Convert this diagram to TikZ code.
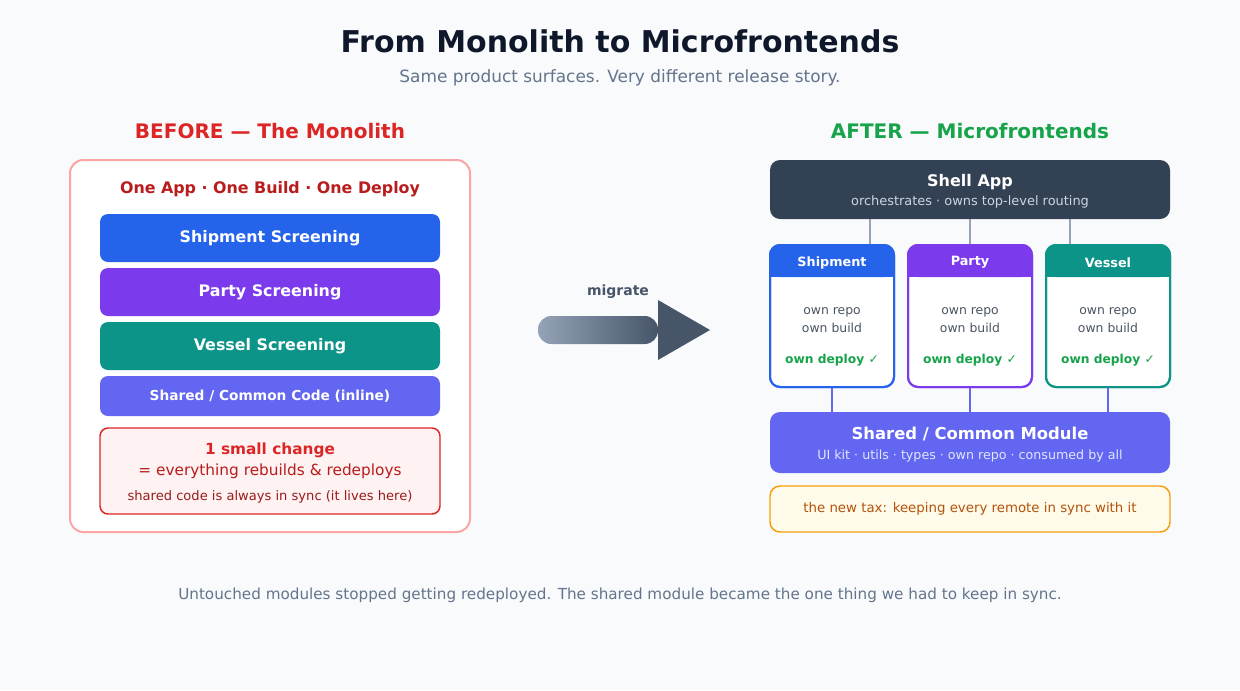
\documentclass[tikz,border=0pt]{standalone}
\usepackage{fontspec}
\setmainfont{DejaVu Sans}
\usetikzlibrary{positioning}
\definecolor{bg}{HTML}{F8FAFC}
\definecolor{ink}{HTML}{0F172A}
\definecolor{muted}{HTML}{64748B}
\definecolor{redA}{HTML}{DC2626}
\definecolor{redB}{HTML}{B91C1C}
\definecolor{redC}{HTML}{991B1B}
\definecolor{redL}{HTML}{FCA5A5}
\definecolor{redF}{HTML}{FEF2F2}
\definecolor{blueS}{HTML}{2563EB}
\definecolor{purpS}{HTML}{7C3AED}
\definecolor{tealS}{HTML}{0D9488}
\definecolor{indS}{HTML}{6366F1}
\definecolor{indL}{HTML}{E0E7FF}
\definecolor{slateD}{HTML}{334155}
\definecolor{slateM}{HTML}{475569}
\definecolor{slateL}{HTML}{94A3B8}
\definecolor{slateT}{HTML}{CBD5E1}
\definecolor{greenS}{HTML}{16A34A}
\definecolor{amberB}{HTML}{F59E0B}
\definecolor{amberF}{HTML}{FFFBEB}
\definecolor{amberT}{HTML}{B45309}
\definecolor{cardT}{HTML}{4B5563}

\begin{document}
\begin{tikzpicture}[x=0.75pt,y=-0.75pt,
    bar/.style={rounded corners=6pt,minimum width=255pt,minimum height=36pt,text=white,font=\bfseries\fontsize{11.9}{13}\selectfont},
    wide/.style={rounded corners=7.5pt,minimum width=300pt,align=center},
    card/.style={draw=#1,line width=1.5pt,fill=white,rounded corners=7.5pt,minimum width=93pt,minimum height=106.5pt},
    head/.style={text=white,font=\bfseries\fontsize{9.6}{11}\selectfont},
    body/.style={text=cardT,font=\fontsize{9.3}{14}\selectfont,align=center},
    ok/.style={text=greenS,font=\bfseries\fontsize{9.2}{11}\selectfont},
    link/.style={line width=1.5pt,draw=#1}]
  \fill[bg] (0,0) rectangle (1240,690);
  \useasboundingbox (0,0) rectangle (1240,690);

  % titles
  \node[text=ink,font=\bfseries\fontsize{22.5}{26}\selectfont] (title) at (620,41) {From Monolith to Microfrontends};
  \node[text=muted,font=\fontsize{12.7}{15}\selectfont] (sub) at (620,78) {Same product surfaces. Very different release story.};

  % before
  \node[text=redA,font=\bfseries\fontsize{15}{18}\selectfont] (before) at (270,131) {BEFORE — The Monolith};
  \node[draw=redL,line width=1.5pt,fill=white,rounded corners=10pt,minimum width=300pt,minimum height=279pt] (mono) at (270,346) {};
  \node[text=redB,font=\bfseries\fontsize{11.9}{13}\selectfont] (one) at (270,189) {One App · One Build · One Deploy};
  \node[bar,fill=blueS] (ship) at (270,238) {Shipment Screening};
  \node[bar,fill=purpS] (party) at (270,292) {Party Screening};
  \node[bar,fill=tealS] (vessel) at (270,346) {Vessel Screening};
  \node[bar,fill=indS,minimum height=30pt,font=\bfseries\fontsize{10.3}{12}\selectfont] (inline) at (270,396) {Shared / Common Code (inline)};
  \node[draw=redA,line width=1.1pt,fill=redF,rounded corners=6pt,minimum width=255pt,minimum height=64.5pt] (change) at (270,471) {};
  \node[text=redA,font=\bfseries\fontsize{11.5}{13}\selectfont] at (270,450) {1 small change};
  \node[text=redB,font=\fontsize{11.5}{13}\selectfont] at (270,471) {= everything rebuilds \& redeploys};
  \node[text=redC,font=\fontsize{9.8}{11}\selectfont] at (270,497) {shared code is always in sync (it lives here)};

  % migrate arrow
  \node[text=slateM,font=\bfseries\fontsize{10.5}{12}\selectfont] (mig) at (618,292) {migrate};
  \shade[left color=slateL,right color=slateM,rounded corners=10pt] (538,316) rectangle (658,344);
  \fill[slateM] (658,300) -- (710,330) -- (658,360) -- cycle;

  % after
  \node[text=greenS,font=\bfseries\fontsize{15}{18}\selectfont] (after) at (970,131) {AFTER — Microfrontends};
  \node[wide,fill=slateD,minimum height=44.25pt] (shell) at (970,189.5) {};
  \node[text=white,font=\bfseries\fontsize{12}{14}\selectfont] at (970,182) {Shell App};
  \node[text=slateT,font=\fontsize{9.7}{11}\selectfont] at (970,202) {orchestrates · owns top-level routing};

  \foreach \n/\x/\c/\t in {cs/832/blueS/Shipment,cp/970/purpS/Party,cv/1108/tealS/Vessel}{
    \node[card=\c] (\n) at (\x,316) {};
    \fill[\c,rounded corners=7.5pt] (\x-62,245) rectangle (\x+62,277);
    \fill[\c] (\x-62,265) rectangle (\x+62,277);
    \draw[\c,line width=1.5pt,rounded corners=7.5pt] (\x-62,245) rectangle (\x+62,387);
    \node[head] at (\x,262.5) {\t};
    \node[body] at (\x,320) {own repo\\own build};
    \node[ok] at (\x,360) {own deploy ✓};
  }

  \node[wide,fill=indS,minimum height=45.75pt] (shared) at (970,442.5) {};
  \node[text=white,font=\bfseries\fontsize{12.3}{14}\selectfont] at (970,434) {Shared / Common Module};
  \node[text=indL,font=\fontsize{9.5}{11}\selectfont] at (970,456) {UI kit · utils · types · own repo · consumed by all};
  \node[wide,draw=amberB,line width=1.1pt,fill=amberF,minimum height=34.5pt,text=amberT,font=\fontsize{10}{12}\selectfont] (tax) at (970,509) {the new tax: keeping every remote in sync with it};

  % links
  \draw[link=slateL] (shell.south -| 870,0) -- (cs.north -| 870,0);
  \draw[link=slateL] (shell.south) -- (cp.north);
  \draw[link=slateL] (shell.south -| 1070,0) -- (cv.north -| 1070,0);
  \draw[link=indS] (cs.south) -- (cs.south |- shared.north);
  \draw[link=indS] (cp.south) -- (shared.north);
  \draw[link=indS] (cv.south) -- (cv.south |- shared.north);

  \node[text=muted,font=\fontsize{11.4}{13}\selectfont] (foot) at (620,595) {Untouched modules stopped getting redeployed. The shared module became the one thing we had to keep in sync.};
\end{tikzpicture}
\end{document}
